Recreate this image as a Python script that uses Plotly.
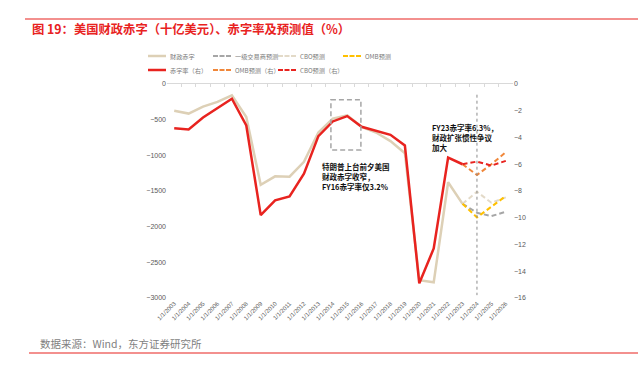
import plotly.graph_objects as go

# ---------------- data ----------------
years = ["1/1/2003", "1/1/2004", "1/1/2005", "1/1/2006", "1/1/2007", "1/1/2008",
         "1/1/2009", "1/1/2010", "1/1/2011", "1/1/2012", "1/1/2013", "1/1/2014",
         "1/1/2015", "1/1/2016", "1/1/2017", "1/1/2018", "1/1/2019", "1/1/2020",
         "1/1/2021", "1/1/2022", "1/1/2023", "1/1/2024", "1/1/2025", "1/1/2026"]

# Fiscal deficit, billion USD (left axis)
deficit = [-375, -415, -318, -250, -160, -462, -1413, -1294, -1300, -1090, -680, -485,
           -440, -600, -680, -800, -970, -2750, -2780, -1378, -1680, None, None, None]
dealer_fc = [None, None, None, None, None, None, None, None, None, None, None, None,
             None, None, None, None, None, None, None, None, -1680, -1805, -1852, -1791]
cbo_fc = [None, None, None, None, None, None, None, None, None, None, None, None,
          None, None, None, None, None, None, None, None, -1680, -1510, -1664, -1590]
omb_fc = [None, None, None, None, None, None, None, None, None, None, None, None,
          None, None, None, None, None, None, None, None, -1680, -1870, -1720, -1570]

# Deficit ratio, % of GDP (right axis)
ratio = [-3.3, -3.4, -2.5, -1.8, -1.1, -3.1, -9.8, -8.7, -8.4, -6.7, -3.9, -2.8,
         -2.4, -3.2, -3.5, -3.8, -4.6, -14.9, -12.3, -5.5, -6.0, None, None, None]
omb_ratio_fc = [None, None, None, None, None, None, None, None, None, None, None, None,
                None, None, None, None, None, None, None, None, -6.0, -6.8, -6.0, -5.1]
cbo_ratio_fc = [None, None, None, None, None, None, None, None, None, None, None, None,
                None, None, None, None, None, None, None, None, -6.0, -5.8, -6.1, -5.75]

left_ticks = [0, -500, -1000, -1500, -2000, -2500, -3000]
right_ticks = [0, -2, -4, -6, -8, -10, -12, -14, -16]

title_text = "图 19：美国财政赤字（十亿美元）、赤字率及预测值（%）"
source_text = "数据来源：Wind，东方证券研究所"
note_2016 = "特朗普上台前夕美国<br>财政赤字收窄，<br>FY16赤字率仅3.2%"
note_2023 = "FY23赤字率6.3%，<br>财政扩张惯性争议<br>加大"

# ---------------- layout helpers ----------------
W, H = 638, 367
L, R, T, B = 167, 125, 84, 69
PW = W - L - R
PH = H - T - B


def px(x):
    return (x - L) / PW


def py(y):
    return (H - B - y) / PH


FONT = "Liberation Sans, Arial, Noto Sans CJK SC, sans-serif"
CJK = "Noto Sans CJK SC, Liberation Sans, sans-serif"

BEIGE = "#DDD0B6"
RED = "#E8231F"
GRAY = "#A6A6A6"
BEIGE_D = "#E3DAC8"
YELLOW = "#FFC000"
ORANGE = "#F0873A"
DASH = "5px,3px"

fig = go.Figure()

series = [
    # (name, values, axis, color, width, dash, legend row, legend col)
    ("财政赤字", deficit, "y", BEIGE, 2.5, "solid", 0, 0),
    ("一级交易商预测", dealer_fc, "y", GRAY, 2, DASH, 0, 1),
    ("CBO预测", cbo_fc, "y", BEIGE_D, 2, DASH, 0, 2),
    ("OMB预测", omb_fc, "y", YELLOW, 2, DASH, 0, 3),
    ("赤字率（右）", ratio, "y2", RED, 2.5, "solid", 1, 0),
    ("OMB预测（右）", omb_ratio_fc, "y2", ORANGE, 2, DASH, 1, 1),
    ("CBO预测（右）", cbo_ratio_fc, "y2", RED, 2, DASH, 1, 2),
]

for name, vals, ax, color, width, dash, _, _ in series:
    fig.add_trace(go.Scatter(x=years, y=vals, name=name, mode="lines", yaxis=ax,
                             line=dict(color=color, width=width, dash=dash),
                             showlegend=False))

n = len(years)

fig.update_layout(
    width=W, height=H,
    margin=dict(l=L, r=R, t=T, b=B, pad=0, autoexpand=False),
    paper_bgcolor="white", plot_bgcolor="white",
    font=dict(family=FONT, size=7, color="#595959"),
    showlegend=False,
    title=dict(text=title_text, xref="container", yref="container",
               x=32 / W, xanchor="left", y=1 - 30 / H, yanchor="middle",
               pad=dict(l=0, r=0, t=0, b=0),
               font=dict(family=CJK, size=12.3, color="#E8231F", weight="bold")),
    xaxis=dict(type="category", categoryarray=years, range=[-0.5, n - 0.5],
               tickangle=-45, tickfont=dict(size=6, color="#595959"), automargin=False,
               showgrid=False, showline=False, zeroline=False, ticks=""),
    xaxis2=dict(overlaying="x", side="top", anchor="y", range=[-0.5, n - 0.5],
                tickmode="array", tickvals=[i - 0.5 for i in range(n + 1)],
                ticks="inside", ticklen=3, tickcolor="#D9D9D9", automargin=False,
                showline=True, linecolor="#D9D9D9", linewidth=1,
                showticklabels=False, showgrid=False, zeroline=False),
    yaxis=dict(range=[-3000, 0], tickmode="array", tickvals=left_ticks, automargin=False,
               showgrid=False, zeroline=False, showline=False, ticks="",
               tickfont=dict(size=7, color="#595959")),
    yaxis2=dict(range=[-16, 0], tickmode="array", tickvals=right_ticks, automargin=False,
                overlaying="y", side="right", anchor="x",
                showgrid=False, zeroline=False, showline=False, ticks="",
                tickfont=dict(size=7, color="#595959")),
)

# legend drawn as line samples + labels (two rows, four columns)
col_x = [148, 213, 278, 343]
row_y = [56, 70]
for name, _, _, color, width, dash, row, col in series:
    x0 = col_x[col]
    yy = row_y[row]
    fig.add_shape(type="line", xref="paper", yref="paper",
                  x0=px(x0), x1=px(x0 + 18), y0=py(yy), y1=py(yy),
                  line=dict(color=color, width=width,
                            dash="5px,1.5px" if dash != "solid" else "solid"))
    fig.add_annotation(text=name, xref="paper", yref="paper", x=px(x0 + 20), y=py(yy),
                       xanchor="left", yanchor="middle", showarrow=False,
                       font=dict(family=CJK, size=6.2, color="#7A7A7A"))

# dashed box around FY2014-2016
fig.add_shape(type="rect", xref="x2", yref="y",
              x0=years.index("1/1/2014") - 0.13, x1=years.index("1/1/2016") - 0.05,
              y0=-220, y1=-925,
              line=dict(color=GRAY, width=1.5, dash="5px,3px"), fillcolor="rgba(0,0,0,0)")

# vertical dashed line at 2024
x24 = years.index("1/1/2024")
fig.add_shape(type="line", xref="x2", yref="y", x0=x24, x1=x24, y0=-150, y1=-2960,
              line=dict(color="#8C8C8C", width=1, dash="3px,3px"))

# decorative red rules
fig.add_shape(type="line", xref="paper", yref="paper", x0=px(25), x1=px(638),
              y0=py(19), y1=py(19), line=dict(color="#E8231F", width=1.2))
fig.add_shape(type="line", xref="paper", yref="paper", x0=px(29), x1=px(638),
              y0=py(353), y1=py(353), line=dict(color="#E8231F", width=1.2))

fig.add_annotation(text=note_2016, xref="paper", yref="paper", x=px(320), y=py(159),
                   xanchor="left", yanchor="top", align="left", showarrow=False,
                   font=dict(family=CJK, size=7.5, color="#111111", weight="bold"))
fig.add_annotation(text=note_2023, xref="paper", yref="paper", x=px(430), y=py(120),
                   xanchor="left", yanchor="top", align="left", showarrow=False,
                   font=dict(family=CJK, size=7.5, color="#111111", weight="bold"))
fig.add_annotation(text=source_text, xref="paper", yref="paper", x=px(38), y=py(343),
                   xanchor="left", yanchor="middle", showarrow=False,
                   font=dict(family=CJK, size=10.5, color="#7F7F7F"))

fig.write_html("out.html", config={"displayModeBar": False},
               post_script="document.body.style.margin='0';document.body.style.overflow='hidden';")
